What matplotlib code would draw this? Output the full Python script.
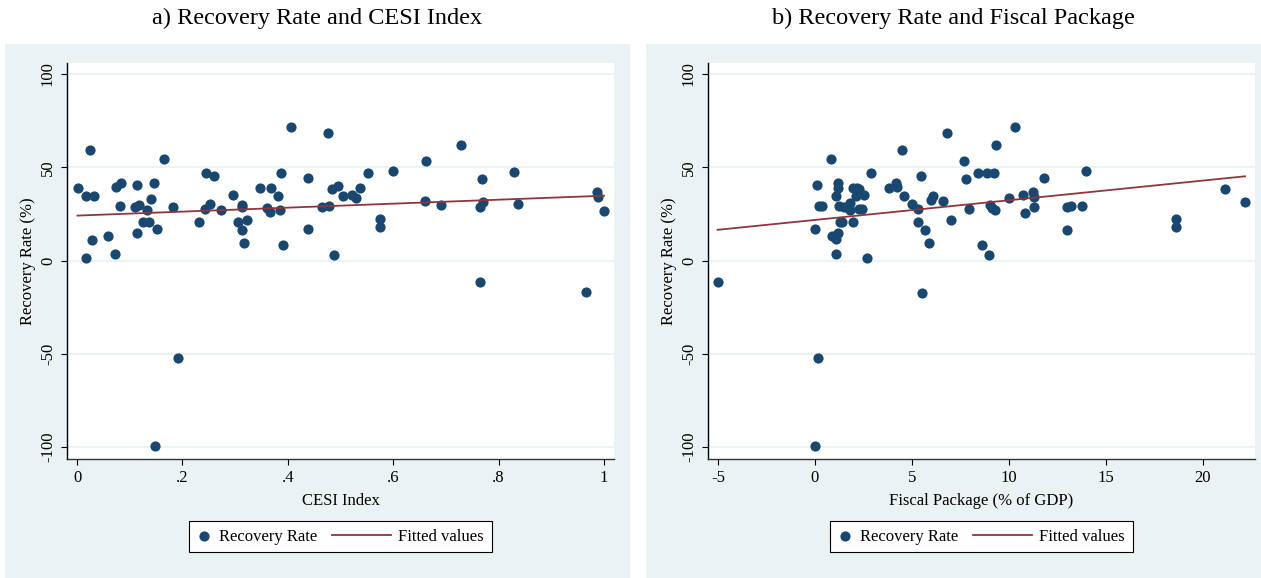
import numpy as np
import matplotlib.pyplot as plt
from matplotlib.patches import Rectangle
from matplotlib.legend_handler import HandlerLine2D

# CESI index vs recovery rate
cesi = [0.001, 0.025, 0.018, 0.033, 0.029, 0.017, 0.059, 0.072, 0.074, 0.083,
        0.082, 0.113, 0.110, 0.118, 0.114, 0.126, 0.136, 0.133, 0.140, 0.147,
        0.151, 0.165, 0.183, 0.232, 0.244, 0.243, 0.253, 0.260, 0.273, 0.296,
        0.313, 0.314, 0.306, 0.314, 0.317, 0.323, 0.347, 0.360, 0.366, 0.369,
        0.382, 0.385, 0.388, 0.390, 0.407, 0.438, 0.438, 0.465, 0.476, 0.478,
        0.484, 0.487, 0.496, 0.505, 0.521, 0.529, 0.537, 0.552, 0.575, 0.575,
        0.599, 0.660, 0.663, 0.691, 0.729, 0.765, 0.771, 0.769, 0.765, 0.830,
        0.836, 0.986, 0.989, 1.000, 0.966, 0.192, 0.148]
rate_a = [39.0, 59.2, 34.6, 34.6, 11.2, 1.3, 13.1, 3.5, 39.2, 41.7,
          29.4, 40.6, 28.8, 29.8, 14.9, 20.6, 20.8, 27.1, 32.8, 41.7,
          17.1, 54.6, 28.8, 20.6, 46.9, 27.4, 30.3, 45.3, 27.3, 35.0,
          29.9, 28.5, 20.5, 16.4, 9.5, 21.9, 38.7, 28.0, 25.8, 38.7,
          34.6, 27.1, 46.8, 8.2, 71.8, 44.4, 16.7, 28.8, 68.2, 29.2,
          38.5, 2.8, 40.0, 34.7, 35.1, 33.7, 39.0, 46.9, 22.4, 18.1,
          48.0, 31.9, 53.4, 29.6, 62.1, 28.7, 31.2, 43.9, -11.7, 47.3,
          30.3, 36.6, 33.9, 26.7, -17.0, -52.3, -99.5]

# fiscal package (% of GDP) vs recovery rate
fiscal = [-5.02, -0.02, 0.09, 0.19, 0.37, 0.80, 0.88, 1.09, 1.19, 1.10,
          1.09, 1.19, 1.19, 1.24, 1.30, 1.40, 1.47, 1.67, 1.78, 1.83,
          1.98, 1.98, 2.09, 2.17, 2.29, 2.29, 2.41, 2.53, 2.69, 2.90,
          3.79, 4.19, 4.25, 4.50, 4.60, 4.99, 5.29, 5.29, 5.49, 5.68,
          5.87, 5.97, 6.10, 6.58, 6.78, 6.99, 7.70, 7.78, 7.94, 5.53,
          0.13, 0.00, 8.40, 8.59, 8.88, 8.97, 9.00, 9.12, 9.23, 9.28,
          9.31, 10.00, 10.31, 10.71, 10.81, 11.26, 11.31, 11.31, 11.81, 12.99,
          13.01, 13.22, 13.79, 13.98, 18.61, 18.61, 21.12, 22.17]
rate_b = [-11.5, 17.1, 40.6, 29.1, 29.4, 54.6, 13.1, 11.5, 14.9, 3.5,
          34.6, 41.7, 39.0, 29.4, 20.6, 20.6, 28.8, 28.5, 27.1, 30.7,
          39.0, 20.8, 34.6, 39.0, 38.5, 27.4, 27.4, 35.0, 1.3, 46.9,
          38.7, 41.7, 39.6, 59.2, 34.7, 30.3, 27.8, 20.5, 45.5, 16.5,
          9.5, 32.4, 34.6, 31.9, 68.2, 21.9, 53.4, 43.9, 27.8, -17.4,
          -52.3, -99.5, 47.1, 8.2, 46.8, 2.8, 29.8, 28.0, 46.8, 27.1,
          62.1, 33.7, 71.8, 35.1, 25.6, 36.6, 34.2, 28.8, 44.4, 16.5,
          28.7, 29.2, 29.4, 47.8, 22.4, 18.1, 38.5, 31.2]

yticks = [-100, -50, 0, 50, 100]
xticks_a = [0, 0.2, 0.4, 0.6, 0.8, 1.0]
xlabels_a = ['0', '.2', '.4', '.6', '.8', '1']
xticks_b = [-5, 0, 5, 10, 15, 20]

NAVY = '#1a476f'
MAROON = '#90353b'
BG = '#eaf2f3'

plt.rcParams['font.family'] = ['Liberation Serif', 'DejaVu Serif']

W, H = 1261, 578
fig = plt.figure(figsize=(W / 100, H / 100), dpi=100, facecolor='white')


class LongLine(HandlerLine2D):
    # line handle reaching back to the left of its box
    def __init__(self, extra, **kw):
        super().__init__(**kw)
        self.extra = extra

    def create_artists(self, legend, orig_handle, xdescent, ydescent,
                       width, height, fontsize, trans):
        return super().create_artists(legend, orig_handle, xdescent + self.extra,
                                      ydescent, width + self.extra, height,
                                      fontsize, trans)


def panel(box, rect, x, y, xlim, xticks, xlabels, title, xlabel):
    bx0, bx1 = box
    fig.add_artist(Rectangle((bx0 / W, 0), (bx1 - bx0) / W, 1 - 44 / H,
                             transform=fig.transFigure, facecolor=BG,
                             edgecolor='none', zorder=-10))
    fig.text((bx0 + bx1) / 2 / W, 1 - 18 / H, title, ha='center', va='center',
             fontsize=17.5)

    ax = fig.add_axes(rect)
    ax.set_facecolor('white')
    for y0 in yticks:
        ax.axhline(y0, color=BG, lw=1.3, zorder=0)

    sc = ax.scatter(x, y, s=54, color=NAVY, linewidths=0, zorder=2,
                    label='Recovery Rate')
    b, a = np.polyfit(x, y, 1)
    xs = np.array([min(x), max(x)])
    ln, = ax.plot(xs, a + b * xs, color=MAROON, lw=1.3, zorder=3,
                  label='Fitted values')

    ax.set_xlim(xlim)
    ax.set_ylim(-106.4, 105.9)
    ax.set_yticks(yticks)
    ax.set_yticklabels([str(t) for t in yticks], rotation=90, va='center')
    ax.set_xticks(xticks)
    ax.set_xticklabels(xlabels)
    ax.tick_params(length=4, width=0.8, labelsize=12, pad=4)
    for s in ('top', 'right'):
        ax.spines[s].set_visible(False)
    ax.spines['left'].set_linewidth(1.0)
    ax.spines['bottom'].set_linewidth(1.0)
    ax.spines['bottom'].set_color('#333333')
    ax.set_ylabel('Recovery Rate (%)', fontsize=12, labelpad=3)
    ax.set_xlabel(xlabel, fontsize=12, labelpad=5)

    # 45 px of extra line length, in points
    leg = ax.legend([sc, ln], ['Recovery Rate', 'Fitted values'], ncol=2,
                    loc='upper center', bbox_to_anchor=(0.5, -0.157),
                    borderaxespad=0, fontsize=12, frameon=True, fancybox=False,
                    framealpha=1, edgecolor='black', handlelength=0.85,
                    handletextpad=0.45, columnspacing=3.6, borderpad=0.45,
                    scatterpoints=1, handler_map={ln: LongLine(extra=45 * 0.72)})
    leg.get_frame().set_linewidth(0.8)
    return ax


panel((5, 630), [67 / W, 1 - 459 / H, (614 - 67) / W, 396 / H],
      cesi, rate_a, (-10 / 527, 1 + 10 / 527), xticks_a, xlabels_a,
      'a) Recovery Rate and CESI Index', 'CESI Index')
panel((646, 1261), [708 / W, 1 - 459 / H, (1255 - 708) / W, 396 / H],
      fiscal, rate_b, (-5 - 10 / 19.37, (1255 - 815.6) / 19.37), xticks_b,
      [str(t) for t in xticks_b],
      'b) Recovery Rate and Fiscal Package', 'Fiscal Package (% of GDP)')

fig.savefig('out.png', dpi=100, facecolor='white')
